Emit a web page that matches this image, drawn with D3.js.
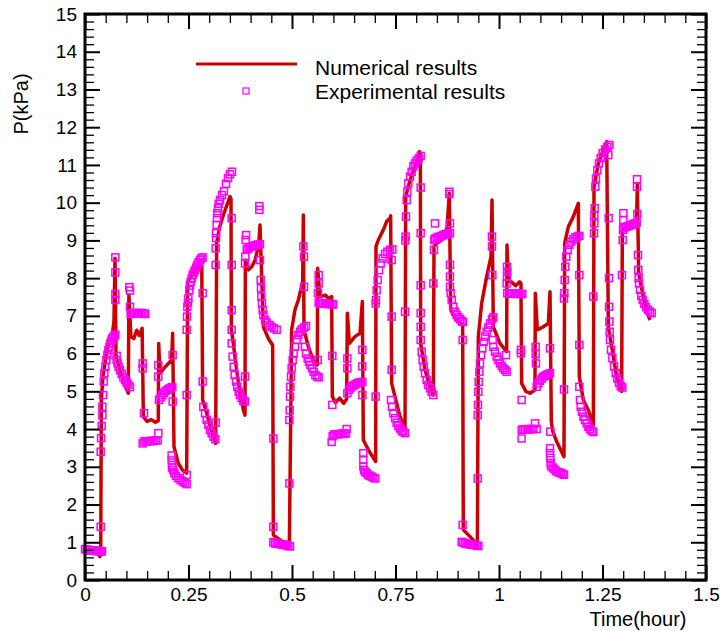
<!DOCTYPE html>
<html><head><meta charset="utf-8">
<script src="https://cdn.jsdelivr.net/npm/d3@7"></script>
<style>body{margin:0;background:#fff;} svg text{font-family:"Liberation Sans",Arial,Helvetica,sans-serif;}</style>
</head><body><svg id="chart" width="721" height="631"></svg>
<script>
const xTicks = [0, 0.25, 0.5, 0.75, 1, 1.25, 1.5];
const xTickLabels = ["0", "0.25", "0.5", "0.75", "1", "1.25", "1.5"];
const yTicks = [0,1,2,3,4,5,6,7,8,9,10,11,12,13,14,15];
const legendLabels = ["Numerical results", "Experimental results"];
const axisTitles = {x: "Time(hour)", y: "P(kPa)"};

// Numerical results: [time (hour), pressure (kPa)]
const numericalResults = [
[0.000,0.78],[0.015,0.76],[0.030,0.72],[0.036,0.62],[0.038,0.70],
[0.0395,4.80],[0.044,5.45],[0.052,6.00],[0.060,6.35],[0.066,6.52],[0.070,6.85],[0.0725,8.53],[0.0749,5.92],[0.085,5.56],[0.095,5.20],[0.1047,4.95],
[0.106,7.55],[0.111,6.45],[0.118,6.40],[0.125,6.62],[0.131,6.48],[0.138,6.67],[0.141,4.33],[0.150,4.20],[0.160,4.25],[0.170,4.18],[0.177,4.22],
[0.178,6.27],[0.181,5.48],[0.190,5.60],[0.200,5.72],[0.2093,5.83],[0.2117,6.54],[0.215,3.53],[0.225,3.10],[0.235,2.92],[0.2456,2.83],
[0.248,7.90],[0.260,8.10],[0.272,8.30],[0.282,8.48],[0.2842,4.77],[0.294,4.42],[0.305,3.98],[0.3156,3.62],
[0.318,8.93],[0.325,9.35],[0.335,9.70],[0.345,10.00],[0.3502,10.16],[0.3527,10.10],[0.3535,6.63],[0.3583,6.27],[0.3663,5.57],[0.3744,4.95],[0.3824,4.51],[0.3865,4.37],
[0.3873,8.48],[0.395,8.22],[0.403,8.31],[0.411,8.48],[0.4195,8.88],[0.4227,9.41],[0.4308,6.71],[0.4429,6.40],[0.4533,6.22],
[0.455,1.19],[0.471,1.06],[0.4911,0.90],
[0.4936,0.95],[0.4992,6.63],[0.5072,7.16],[0.5153,7.42],[0.5209,7.68],[0.5258,7.86],[0.5274,9.67],[0.529,6.63],[0.5395,6.18],[0.5515,5.83],[0.5612,5.70],
[0.562,8.26],[0.5676,7.51],[0.580,7.55],[0.590,7.45],[0.5958,7.51],[0.5974,4.86],[0.605,4.70],[0.615,4.82],[0.625,4.68],[0.632,4.80],
[0.6337,7.07],[0.6385,6.27],[0.652,6.45],[0.6643,6.54],[0.6699,7.38],[0.6723,3.71],[0.6844,3.45],[0.7021,3.14],
[0.7029,8.84],[0.7085,9.01],[0.7206,9.28],[0.7286,9.50],[0.7367,9.59],[0.7383,9.65],[0.7407,5.21],[0.7488,4.86],[0.7609,4.33],[0.773,4.02],
[0.7746,10.16],[0.785,10.60],[0.7971,10.96],[0.8076,11.35],[0.810,11.30],[0.8108,6.27],[0.8213,5.57],[0.8333,5.12],[0.8414,4.90],
[0.843,8.84],[0.8494,8.92],[0.8615,9.01],[0.8736,9.19],[0.880,10.25],[0.8833,7.16],[0.8977,6.89],[0.9122,6.76],
[0.9138,1.33],[0.930,1.15],[0.9477,0.93],
[0.9501,6.45],[0.9581,7.33],[0.9702,8.04],[0.9807,8.57],[0.9831,10.07],[0.9863,6.71],[1.0024,6.27],[1.0185,6.05],
[1.0193,8.88],[1.0225,7.95],[1.030,7.90],[1.040,7.80],[1.050,7.90],[1.053,7.86],[1.0547,5.21],[1.065,5.00],[1.075,4.95],[1.085,5.02],[1.0869,5.05],
[1.0877,7.60],[1.0926,6.63],[1.1071,6.71],[1.1192,6.80],[1.1232,7.64],[1.1264,4.20],[1.1296,3.95],[1.140,3.65],[1.157,3.27],
[1.1586,8.92],[1.1675,9.36],[1.1795,9.63],[1.1916,9.98],[1.194,5.39],[1.2037,4.77],[1.2158,4.50],[1.2279,4.10],
[1.2295,10.42],[1.2399,11.04],[1.252,11.40],[1.2601,11.62],[1.2641,6.72],[1.2722,6.19],[1.2842,5.39],[1.2963,5.00],
[1.2979,9.27],[1.3084,9.36],[1.3325,9.54],[1.3341,10.51],[1.3373,8.13],[1.3486,7.51],[1.3567,7.11],[1.3647,6.89]
];

// Experimental results: [time (hour), pressure (kPa)]
const experimentalResults = [
[0.000,0.82],[0.004,0.80],[0.008,0.80],[0.012,0.78],[0.016,0.79],[0.020,0.78],[0.024,0.77],[0.028,0.78],[0.032,0.76],[0.035,0.77],[0.038,0.75],[0.041,0.76],
[0.0379,1.41],[0.0379,3.40],[0.0387,3.76],[0.0403,4.08],[0.0419,4.37],[0.0419,4.59],[0.0435,4.90],[0.0451,5.26],[0.0467,5.48],[0.0491,5.65],[0.0515,5.83],[0.054,5.96],[0.0564,6.09],[0.0588,6.18],[0.0612,6.27],[0.0636,6.34],[0.066,6.40],[0.0684,6.43],[0.0709,6.47],[0.0733,6.50],
[0.0733,7.42],[0.0733,7.58],[0.0733,8.15],[0.0733,8.55],
[0.0765,5.94],[0.0765,5.83],[0.0789,5.74],[0.0813,5.65],[0.0845,5.56],[0.0886,5.46],[0.0926,5.37],[0.0966,5.30],[0.1007,5.23],[0.1047,5.17],[0.1087,5.11],
[0.107,7.76],[0.1087,7.67],[0.1087,7.24],[0.1103,7.05],[0.1143,7.07],[0.1184,7.06],[0.1224,7.08],[0.1264,7.07],[0.1304,7.06],[0.1345,7.08],[0.1385,7.07],[0.1425,7.06],[0.1457,7.05],
[0.1393,5.74],[0.1393,5.61],[0.1425,4.42],
[0.1393,3.62],[0.1433,3.67],[0.1473,3.68],[0.1514,3.67],[0.1554,3.68],[0.1594,3.69],[0.1634,3.68],[0.1675,3.69],[0.1715,3.70],[0.1755,3.70],[0.1771,3.89],
[0.1771,5.69],[0.1771,5.39],[0.1787,4.77],[0.1828,4.84],[0.1868,4.90],[0.1908,4.96],[0.1948,5.01],[0.1989,5.04],[0.2029,5.07],[0.2069,5.09],[0.2109,5.11],
[0.2117,5.96],[0.2117,4.73],[0.2093,3.30],[0.2093,3.17],[0.2101,2.98],[0.2109,3.05],[0.2133,2.92],[0.2158,2.83],[0.2198,2.76],[0.2254,2.70],[0.2310,2.65],[0.2359,2.61],[0.2407,2.58],[0.2456,2.54],[0.2456,2.78],
[0.2456,4.90],[0.2456,6.63],[0.2464,6.98],[0.2472,7.24],[0.2488,7.35],[0.2496,7.46],[0.2520,7.68],[0.2536,7.80],[0.2552,7.90],[0.2577,8.00],[0.2601,8.08],[0.2629,8.15],[0.2657,8.21],[0.2685,8.28],[0.2713,8.35],[0.2745,8.42],[0.2778,8.48],[0.2810,8.52],[0.2842,8.55],
[0.2842,7.60],[0.2842,5.26],[0.2858,4.59],[0.2899,4.42],[0.2939,4.24],[0.2979,4.11],[0.3019,3.98],[0.3060,3.89],[0.3100,3.80],[0.3148,3.73],[0.3156,4.17],
[0.3156,8.35],[0.3156,8.79],[0.3164,9.06],[0.3164,9.19],[0.3180,9.41],[0.3188,9.59],[0.3196,9.72],[0.3213,9.85],[0.3229,9.97],[0.3261,10.07],[0.3309,10.20],[0.3357,10.30],[0.3406,10.50],[0.3454,10.65],[0.3502,10.75],[0.3550,10.82],
[0.3543,9.59],[0.3543,8.35],[0.3543,7.15],[0.3543,6.63],[0.3543,6.27],[0.3567,5.92],[0.3591,5.65],[0.3615,5.43],[0.3647,5.26],[0.3680,5.12],[0.3712,4.99],[0.3744,4.90],[0.3784,4.82],[0.3824,4.75],[0.3865,4.73],[0.3865,5.39],
[0.3865,8.39],[0.3873,8.57],[0.3881,9.01],[0.3890,9.14],[0.3906,8.76],[0.3946,8.79],[0.3986,8.82],[0.4026,8.84],[0.4066,8.85],[0.4106,8.87],[0.4147,8.88],[0.4187,8.89],[0.4211,9.91],[0.4211,9.81],[0.4227,8.90],[0.4227,8.48],
[0.4243,7.95],[0.4251,7.73],[0.4259,7.51],[0.4275,7.33],[0.4291,7.16],[0.4308,7.02],[0.4348,6.89],[0.4388,6.82],[0.4453,6.76],[0.4509,6.71],[0.4565,6.67],[0.4630,6.63],
[0.4549,3.75],[0.4549,1.41],[0.4549,1.00],[0.4589,0.97],[0.4630,0.96],[0.4670,0.96],[0.4710,0.95],[0.4750,0.94],[0.4791,0.94],[0.4831,0.93],[0.4871,0.92],[0.4911,0.90],[0.4952,0.89],
[0.4936,2.56],[0.4936,4.24],[0.4944,4.50],[0.4952,4.86],[0.4960,5.12],[0.4976,5.39],[0.4992,5.61],[0.5016,5.83],[0.5040,6.00],[0.5072,6.18],[0.5113,6.36],[0.5153,6.49],[0.5193,6.58],[0.5233,6.64],[0.5290,6.69],[0.5338,6.73],
[0.5274,8.84],[0.5290,8.57],[0.5290,7.77],
[0.5314,6.18],[0.5338,6.00],[0.5378,5.87],[0.5410,5.78],[0.5443,5.70],[0.5483,5.61],[0.5523,5.52],[0.5564,5.43],[0.5604,5.39],[0.5644,5.37],
[0.5620,5.83],[0.5628,7.60],[0.5644,7.86],[0.5644,8.08],[0.5644,7.35],[0.5676,7.33],[0.5717,7.33],[0.5757,7.32],[0.5797,7.33],[0.5837,7.32],[0.5878,7.31],[0.5918,7.32],[0.5958,7.31],[0.5998,7.30],
[0.5974,5.94],[0.5974,4.64],[0.5958,3.66],[0.5982,3.81],[0.6014,3.86],[0.6063,3.86],[0.6103,3.86],[0.6143,3.87],[0.6184,3.87],[0.6224,3.88],[0.6264,3.88],[0.6304,3.88],[0.6320,4.00],
[0.6337,5.87],[0.6337,5.61],[0.6337,4.95],[0.6377,5.04],[0.6417,5.10],[0.6457,5.14],[0.6498,5.16],[0.6538,5.19],[0.6578,5.21],[0.6618,5.23],[0.6659,5.24],[0.6699,5.25],
[0.6699,6.10],[0.6699,5.66],[0.6699,4.90],[0.6723,3.36],[0.6723,3.19],[0.6723,3.01],[0.6739,2.92],[0.6763,2.87],[0.6804,2.83],[0.6844,2.78],[0.6884,2.76],[0.6924,2.74],[0.6965,2.71],[0.7013,2.69],
[0.7021,4.86],[0.7021,7.33],[0.7029,7.42],[0.7045,7.68],[0.7069,7.95],[0.7101,8.21],[0.7142,8.39],[0.7190,8.52],[0.7246,8.64],[0.7303,8.70],[0.7367,8.75],[0.7424,8.76],
[0.7407,8.48],[0.7407,6.98],[0.7407,5.57],[0.7391,4.77],[0.7415,4.59],[0.7448,4.42],[0.7488,4.29],[0.7528,4.17],[0.7568,4.08],[0.7609,4.02],[0.7649,3.96],[0.7689,3.93],[0.7730,3.89],
[0.7730,7.11],[0.7738,9.00],[0.7746,9.10],[0.7754,9.63],[0.7770,10.07],[0.7786,10.29],[0.7810,10.51],[0.7850,10.69],[0.7891,10.82],[0.7931,10.96],[0.7971,11.04],[0.8011,11.11],[0.8060,11.17],[0.8108,11.24],
[0.8108,10.40],[0.8108,9.19],[0.8108,7.81],[0.8108,7.07],[0.8108,6.71],[0.8108,6.36],[0.8132,6.05],[0.8156,5.83],[0.8181,5.65],[0.8213,5.48],[0.8253,5.30],[0.8293,5.17],[0.8333,5.08],[0.8374,4.99],[0.8414,4.90],
[0.8414,7.86],[0.8430,8.75],[0.8438,9.01],[0.8454,9.45],[0.8454,9.05],[0.8494,9.07],[0.8535,9.09],[0.8575,9.10],[0.8615,9.12],[0.8655,9.14],[0.8696,9.16],[0.8736,9.17],[0.8776,9.19],[0.8800,10.29],[0.8800,10.23],[0.8816,9.19],
[0.8816,9.45],[0.8816,8.35],[0.8816,8.04],[0.8816,7.77],[0.8833,7.60],[0.8857,7.42],[0.8897,7.24],[0.8937,7.11],[0.8977,7.02],[0.9018,6.96],[0.9058,6.91],[0.9098,6.86],[0.9130,6.84],
[0.9122,6.36],[0.9122,1.46],[0.9098,1.01],[0.9138,0.99],[0.9179,0.97],[0.9219,0.96],[0.9259,0.95],[0.9300,0.94],[0.9340,0.94],[0.9380,0.93],[0.9420,0.93],[0.9461,0.91],[0.9501,0.90],
[0.9485,2.69],[0.9485,4.37],[0.9493,4.64],[0.9501,4.99],[0.9509,5.25],[0.9525,5.52],[0.9541,5.74],[0.9565,5.96],[0.9597,6.14],[0.9630,6.31],[0.9662,6.45],[0.9702,6.58],[0.9742,6.69],[0.9783,6.80],[0.9831,6.91],[0.9863,6.96],
[0.9831,9.10],[0.9831,8.84],[0.9839,8.08],[0.9847,6.36],[0.9863,6.18],[0.9903,6.05],[0.9944,5.92],[0.9984,5.83],[1.0024,5.74],[1.0064,5.67],[1.0105,5.61],[1.0145,5.57],[1.0185,5.52],[1.0169,5.96],
[1.0185,7.86],[1.0193,8.04],[1.0193,8.30],[1.0200,8.17],[1.0200,7.60],[1.0241,7.59],[1.0281,7.60],[1.0321,7.59],[1.0362,7.60],[1.0402,7.59],[1.0442,7.58],[1.0483,7.59],[1.0523,7.58],[1.0563,7.58],
[1.0530,6.10],[1.0530,6.01],[1.0547,4.77],[1.0547,3.75],[1.0547,3.98],[1.0588,3.99],[1.0628,3.99],[1.0668,4.00],[1.0708,3.99],[1.0749,4.00],[1.0789,4.00],[1.0829,4.00],[1.0869,4.15],[1.0910,4.00],
[1.0885,6.18],[1.0885,5.99],[1.0893,5.74],[1.0910,5.12],[1.0950,5.21],[1.0990,5.28],[1.1031,5.34],[1.1071,5.39],[1.1111,5.41],[1.1151,5.44],[1.1192,5.45],[1.1232,5.48],
[1.1232,6.14],[1.1240,3.93],[1.1232,3.49],[1.1232,3.36],[1.1240,3.24],[1.1248,3.10],[1.1256,3.02],[1.1296,2.98],[1.1337,2.94],[1.1377,2.89],[1.1417,2.86],[1.1457,2.85],[1.1498,2.83],[1.1538,2.81],[1.1570,2.79],
[1.1570,5.05],[1.1570,7.46],[1.1578,7.60],[1.1586,7.95],[1.1602,8.30],[1.1626,8.57],[1.1659,8.74],[1.1699,8.88],[1.1747,8.97],[1.1795,9.03],[1.1844,9.08],[1.1892,9.10],[1.1940,9.12],
[1.1940,8.08],[1.1940,6.23],[1.1940,5.12],[1.1957,4.77],[1.1973,4.59],[1.2005,4.46],[1.2037,4.33],[1.2077,4.24],[1.2118,4.15],[1.2158,4.06],[1.2198,4.00],[1.2238,3.95],[1.2279,3.92],
[1.2279,7.51],[1.2295,9.19],[1.2303,9.45],[1.2303,9.67],[1.2311,9.85],[1.2327,10.42],[1.2343,10.64],[1.2375,10.86],[1.2415,11.04],[1.2456,11.18],[1.2504,11.31],[1.2561,11.41],[1.2617,11.48],[1.2665,11.53],
[1.2641,11.26],[1.2649,9.59],[1.2657,8.00],[1.2657,7.24],[1.2665,6.85],[1.2673,6.58],[1.2681,6.36],[1.2705,6.10],[1.2738,5.88],[1.2778,5.66],[1.2818,5.48],[1.2858,5.34],[1.2899,5.23],[1.2939,5.14],[1.2979,5.10],
[1.2971,8.08],[1.2987,9.01],[1.2995,9.28],[1.3003,9.54],[1.3003,9.72],[1.3003,9.32],[1.3043,9.35],[1.3084,9.36],[1.3124,9.38],[1.3164,9.40],[1.3204,9.41],[1.3245,9.43],[1.3285,9.45],[1.3325,9.47],
[1.3333,10.62],[1.3333,10.42],[1.3341,9.70],[1.3357,8.61],[1.3365,8.22],[1.3373,8.00],[1.3381,7.86],[1.3406,7.69],[1.3438,7.53],[1.3470,7.42],[1.3510,7.32],[1.3551,7.23],[1.3599,7.16],[1.3647,7.11],[1.3688,7.07]
];

const svg = d3.select("#chart");
const x = d3.scaleLinear().domain([0, 1.5]).range([85, 706]);
const y = d3.scaleLinear().domain([0, 15]).range([580, 14]);
const RED = "#cc0000", MAG = "#ff00ff";
const SQ = 7;

// numerical line
svg.append("path").datum(numericalResults)
  .attr("d", d3.line().x(d => x(d[0])).y(d => y(d[1])))
  .attr("fill", "none").attr("stroke", RED).attr("stroke-width", 3.5)
  .attr("stroke-linejoin", "round");

// experimental squares
svg.append("g").selectAll("rect").data(experimentalResults).join("rect")
  .attr("x", d => x(d[0]) - SQ / 2).attr("y", d => y(d[1]) - SQ / 2)
  .attr("width", SQ).attr("height", SQ)
  .attr("fill", "none").attr("stroke", MAG).attr("stroke-width", 1.5);

// axes
const minorX = d3.range(0, 1.5001, 0.05).filter(v => Math.abs(v / 0.25 - Math.round(v / 0.25)) > 1e-6);
const minorY = d3.range(0, 15.001, 0.2).filter(v => Math.abs(v - Math.round(v)) > 1e-6);
function clean(g, w) {
  g.select(".domain").remove();
  g.selectAll(".tick line").attr("stroke", "#000").attr("stroke-width", w);
  g.attr("font-family", null).attr("font-size", null);
  g.selectAll("text").attr("font-size", "19px").attr("fill", "#000");
}
// bottom
svg.append("g").attr("transform", "translate(0,580)")
  .call(d3.axisBottom(x).tickValues(xTicks).tickFormat((d, i) => xTickLabels[i]).tickSize(-15).tickPadding(8))
  .call(g => clean(g, 2));
svg.append("g").attr("transform", "translate(0,580)")
  .call(d3.axisBottom(x).tickValues(minorX).tickFormat("").tickSize(-9))
  .call(g => clean(g, 1.3));
// top
svg.append("g").attr("transform", "translate(0,14)")
  .call(d3.axisTop(x).tickValues(xTicks).tickFormat("").tickSize(-15))
  .call(g => clean(g, 2));
svg.append("g").attr("transform", "translate(0,14)")
  .call(d3.axisTop(x).tickValues(minorX).tickFormat("").tickSize(-9))
  .call(g => clean(g, 1.3));
// left
svg.append("g").attr("transform", "translate(85,0)")
  .call(d3.axisLeft(y).tickValues(yTicks).tickFormat(d3.format("d")).tickSize(-15).tickPadding(8))
  .call(g => clean(g, 2));
svg.append("g").attr("transform", "translate(85,0)")
  .call(d3.axisLeft(y).tickValues(minorY).tickFormat("").tickSize(-9))
  .call(g => clean(g, 1.3));
// right
svg.append("g").attr("transform", "translate(706,0)")
  .call(d3.axisRight(y).tickValues(yTicks).tickFormat("").tickSize(-15))
  .call(g => clean(g, 2));
svg.append("g").attr("transform", "translate(706,0)")
  .call(d3.axisRight(y).tickValues(minorY).tickFormat("").tickSize(-9))
  .call(g => clean(g, 1.3));

// frame
svg.append("rect").attr("x", 85).attr("y", 14).attr("width", 621).attr("height", 566)
  .attr("fill", "none").attr("stroke", "#000").attr("stroke-width", 3);

// axis titles
svg.append("text").attr("x", 638).attr("y", 626).attr("text-anchor", "middle")
  .attr("font-size", "20px").text(axisTitles.x);
svg.append("text").attr("transform", "translate(27.5,104) rotate(-90)").attr("text-anchor", "middle")
  .attr("font-size", "20px").text(axisTitles.y);

// legend
svg.append("line").attr("x1", 196).attr("x2", 297).attr("y1", 64).attr("y2", 64)
  .attr("stroke", RED).attr("stroke-width", 3);
svg.append("rect").attr("x", 243).attr("y", 88).attr("width", 6).attr("height", 6)
  .attr("fill", "none").attr("stroke", MAG).attr("stroke-width", 1.2);
svg.append("text").attr("x", 315).attr("y", 74.5).attr("font-size", "21px").text(legendLabels[0]);
svg.append("text").attr("x", 315).attr("y", 98.5).attr("font-size", "21px").text(legendLabels[1]);
</script>
</body></html>
